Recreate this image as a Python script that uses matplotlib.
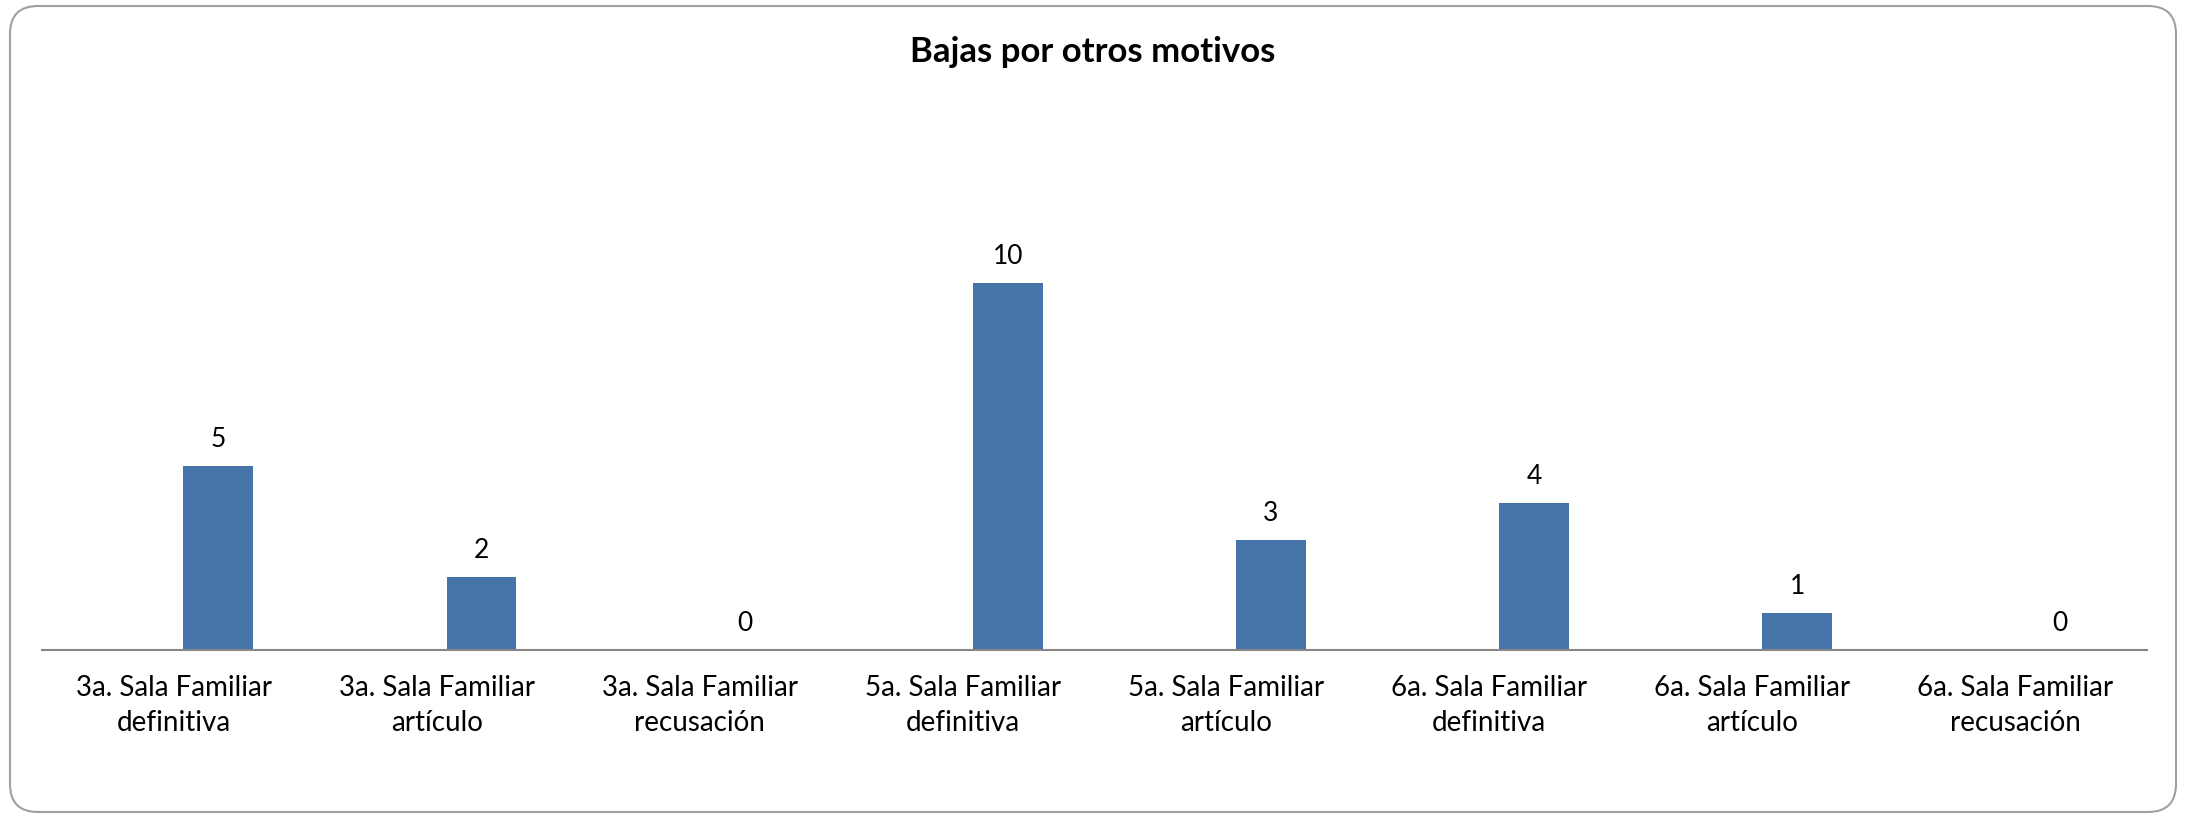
import matplotlib.pyplot as plt
import numpy as np
from matplotlib.patches import FancyBboxPatch
from matplotlib.transforms import IdentityTransform

categories = [
    "3a. Sala Familiar\ndefinitiva",
    "3a. Sala Familiar\nartículo",
    "3a. Sala Familiar\nrecusación",
    "5a. Sala Familiar\ndefinitiva",
    "5a. Sala Familiar\nartículo",
    "6a. Sala Familiar\ndefinitiva",
    "6a. Sala Familiar\nartículo",
    "6a. Sala Familiar\nrecusación",
]
values = [5, 2, 0, 10, 3, 4, 1, 0]

plt.rcParams['font.family'] = ['Lato', 'DejaVu Sans']

W, H = 2186, 818
fig = plt.figure(figsize=(W / 100, H / 100), dpi=100)

# rounded chart frame (pixel coordinates)
frame = FancyBboxPatch((10, 6), 2166, 806,
                       boxstyle="round,pad=0,rounding_size=28",
                       transform=IdentityTransform(), facecolor='none',
                       edgecolor='#A0A0A0', linewidth=1.5, zorder=-1)
fig.patches.append(frame)

ax = fig.add_axes([42 / W, (818 - 650) / H, (2147 - 42) / W, (650 - 209) / H])
ax.set_facecolor('none')

x = np.arange(len(categories))
offset = 0.17
bars = ax.bar(x + offset, values, width=0.265, color='#4673A8')
for xi, v in zip(x, values):
    ax.annotate(str(v), (xi + offset, v), xytext=(0, 10), textcoords='offset points',
                ha='center', va='bottom', fontsize=19)

ax.set_xlim(-0.5, len(categories) - 0.5)
ax.set_ylim(0, 12)
ax.set_yticks([])
ax.set_xticks(x)
ax.set_xticklabels(categories, fontsize=20, linespacing=1.45)
ax.tick_params(axis='x', length=0, pad=18)
for s in ['top', 'right', 'left']:
    ax.spines[s].set_visible(False)
ax.spines['bottom'].set_color('#868686')
ax.spines['bottom'].set_linewidth(1.5)

fig.text(0.5, (818 - 52) / H, "Bajas por otros motivos", ha='center', va='center',
         fontsize=25, fontweight='bold')

fig.savefig("out.png", dpi=100)
